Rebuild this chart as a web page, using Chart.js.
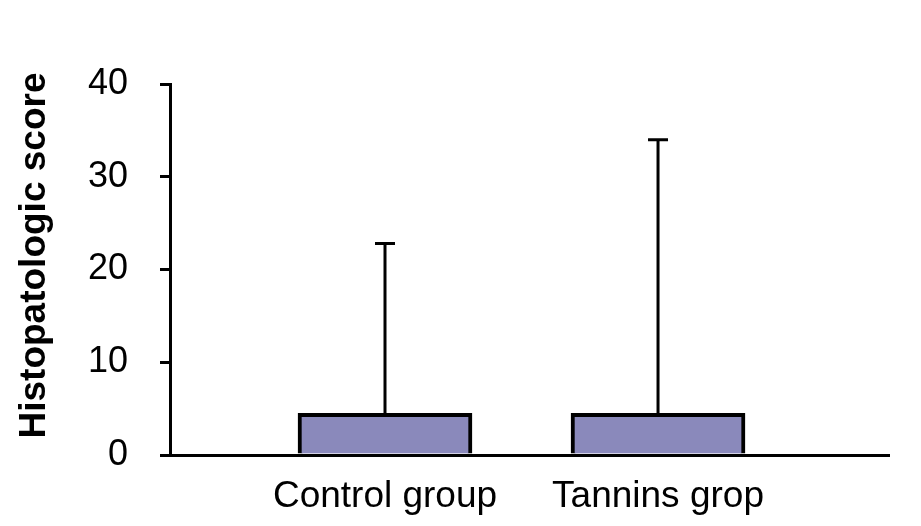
<!DOCTYPE html>
<html>
<head>
<meta charset="utf-8">
<title>Histopatologic score</title>
<script src="https://cdn.jsdelivr.net/npm/chart.js"></script>
<style>
  html, body { margin: 0; padding: 0; background: #fff; }
  canvas { display: block; }
</style>
</head>
<body>
<canvas id="score-chart" width="921" height="526"></canvas>
<script>
// Data
const groups = ["Control group", "Tannins grop"]
const groupPos = [1, 2]
const meanScore = [4.5, 4.5]
const errUpper = [18.3, 29.5]   // mean + err = top of whisker
const yTicks = [0, 10, 20, 30, 40]

const fontFamily = "'Liberation Sans', Arial, sans-serif"

// draws the upper whiskers on top of the bars
const errorBars = {
  id: "errorBars",
  afterDatasetsDraw(chart) {
    const ctx = chart.ctx
    const y = chart.scales.y
    const meta = chart.getDatasetMeta(0)
    ctx.save()
    ctx.strokeStyle = "#000"
    ctx.lineWidth = 3
    meta.data.forEach((bar, i) => {
      const top = y.getPixelForValue(meanScore[i] + errUpper[i])
      const base = y.getPixelForValue(meanScore[i])
      ctx.beginPath()
      ctx.moveTo(bar.x, base)
      ctx.lineTo(bar.x, top)
      ctx.moveTo(bar.x - 10, top)
      ctx.lineTo(bar.x + 10, top)
      ctx.stroke()
    })
    ctx.restore()
  },
}

// y axis title, sits a little above the middle of the axis
const yTitle = {
  id: "yTitle",
  afterDraw(chart) {
    const ctx = chart.ctx
    const area = chart.chartArea
    ctx.save()
    ctx.translate(35, (area.top + area.bottom) / 2 - 14)
    ctx.rotate(-Math.PI / 2)
    ctx.font = "bold 37px " + fontFamily
    ctx.fillStyle = "#000"
    ctx.textAlign = "center"
    ctx.textBaseline = "middle"
    ctx.fillText("Histopatologic score", 0, 0)
    ctx.restore()
  },
}

const ctx = document.getElementById("score-chart").getContext("2d")

new Chart(ctx, {
  type: "bar",
  data: {
    datasets: [
      {
        label: "Histopatologic score",
        data: groupPos.map((x, i) => ({ x: x, y: meanScore[i] })),
        backgroundColor: "#8a89bb",
        borderColor: "#000",
        borderWidth: 4,
        barThickness: 174,
      },
    ],
  },
  options: {
    responsive: false,
    animation: false,
    layout: {
      padding: { top: 84, right: 32, bottom: 0, left: 0 },
    },
    plugins: {
      legend: { display: false },
      tooltip: { enabled: false },
    },
    scales: {
      x: {
        type: "linear",
        offset: false,
        min: 0.2125,
        max: 2.846,
        afterBuildTicks: (scale) => {
          scale.ticks = groupPos.map((v) => ({ value: v }))
        },
        afterFit: (scale) => {
          scale.height = 71
        },
        ticks: {
          callback: (value) => groups[groupPos.indexOf(value)] || "",
          color: "#000",
          font: { family: fontFamily, size: 37 },
          padding: 12,
          maxRotation: 0,
          autoSkip: false,
        },
        grid: { display: false },
        border: { display: true, color: "#000", width: 3 },
      },
      y: {
        min: 0,
        max: 40,
        afterBuildTicks: (scale) => {
          scale.ticks = yTicks.map((v) => ({ value: v }))
        },
        afterFit: (scale) => {
          scale.width = 170
        },
        ticks: {
          color: "#000",
          font: { family: fontFamily, size: 36 },
          padding: 32,
        },
        grid: {
          display: true,
          drawOnChartArea: false,
          drawTicks: true,
          tickLength: 10,
          color: "#000",
          lineWidth: 3,
        },
        border: { display: true, color: "#000", width: 3 },
      },
    },
  },
  plugins: [errorBars, yTitle],
})
</script>
</body>
</html>
